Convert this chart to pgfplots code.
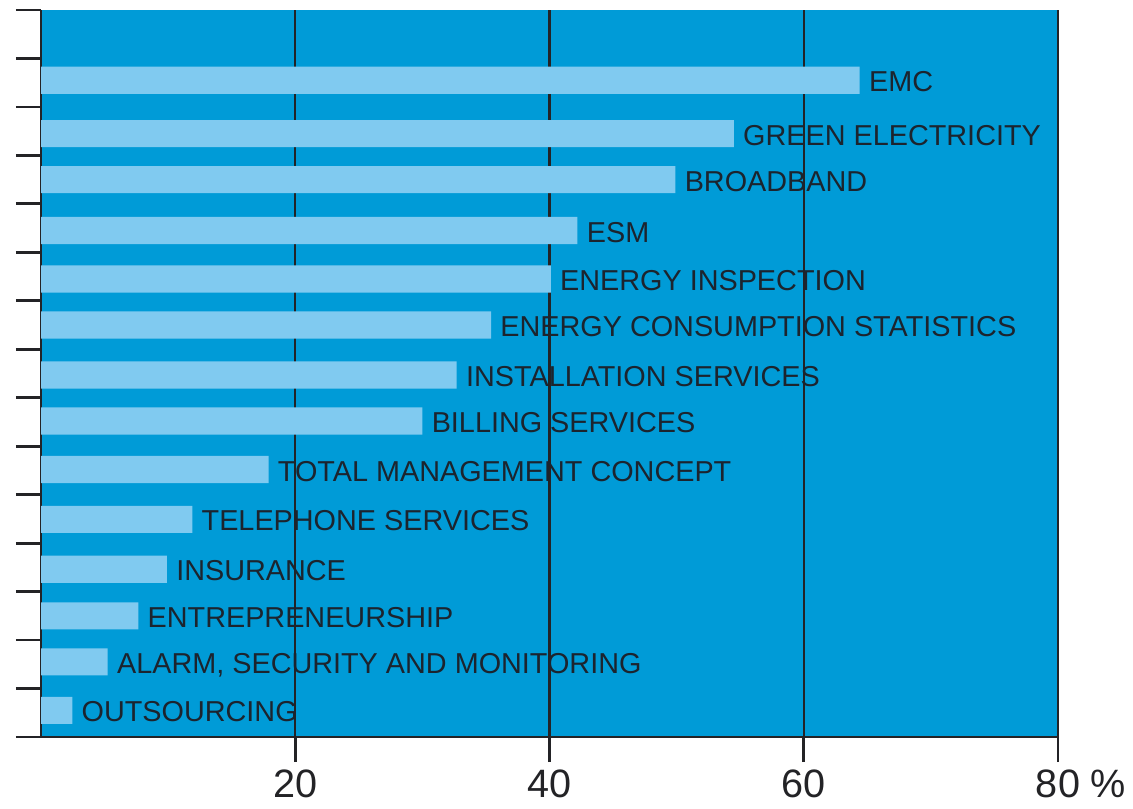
\documentclass[border=0pt]{standalone}
\usepackage{pgfplots}
\pgfplotsset{compat=1.18}
\usepackage{fontspec}
\setmainfont{Liberation Sans}
\definecolor{bgblue}{RGB}{0,155,215}
\definecolor{barblue}{RGB}{128,202,240}
\definecolor{darkline}{RGB}{35,35,38}
\definecolor{labeltext}{RGB}{28,36,46}
\begin{document}
\begin{tikzpicture}
\useasboundingbox (-20.5pt,-35.5pt) rectangle (546pt,368.5pt);
\begin{axis}[
  scale only axis,
  width=508.5pt, height=363.5pt,
  xmin=0, xmax=80, ymin=0.5, ymax=15.5,
  axis background/.style={fill=bgblue},
  axis x line*=bottom,
  axis y line*=box,
  ytick pos=left,
  axis line style={darkline, line width=1.4pt},
  xtick={20,40,60,80},
  xticklabels={20,40,60,80\rlap{ \%}},
  ytick={0.5,1.5,...,15.5},
  yticklabels={},
  tick align=outside,
  major tick length=12.5pt,
  tick style={darkline, line width=1.4pt},
  xmajorgrids,
  major grid style={darkline, line width=1.2pt},
  /pgf/number format/assume math mode=true,
  xticklabel style={font=\fontsize{19.8}{22}\selectfont, text=darkline, inner sep=0pt, yshift=-3.5pt},
  xbar,
  bar width=0.56,
  bar shift=0pt,
  point meta=explicit symbolic,
  nodes near coords,
  nodes near coords style={anchor=base west, inner sep=0pt, xshift=4.5pt, yshift=-5.8pt,
    font=\fontsize{14.4}{16}\selectfont, text=labeltext},
  clip=false,
]
\addplot[fill=barblue, draw=none] coordinates {
  (64.4,14.05) [EMC]
  (54.5,12.95) [GREEN ELECTRICITY]
  (49.9,12.0) [BROADBAND]
  (42.2,10.95) [ESM]
  (40.1,9.95) [ENERGY INSPECTION]
  (35.4,9.0) [ENERGY CONSUMPTION STATISTICS]
  (32.7,7.97) [INSTALLATION SERVICES]
  (30.0,7.02) [BILLING SERVICES]
  (17.9,6.02) [TOTAL MANAGEMENT CONCEPT]
  (11.9,4.99) [TELEPHONE SERVICES]
  (9.9,3.96) [INSURANCE]
  (7.65,3.0) [ENTREPRENEURSHIP]
  (5.25,2.05) [{ALARM, SECURITY AND MONITORING}]
  (2.46,1.05) [OUTSOURCING]
};
\end{axis}
\end{tikzpicture}
\end{document}
